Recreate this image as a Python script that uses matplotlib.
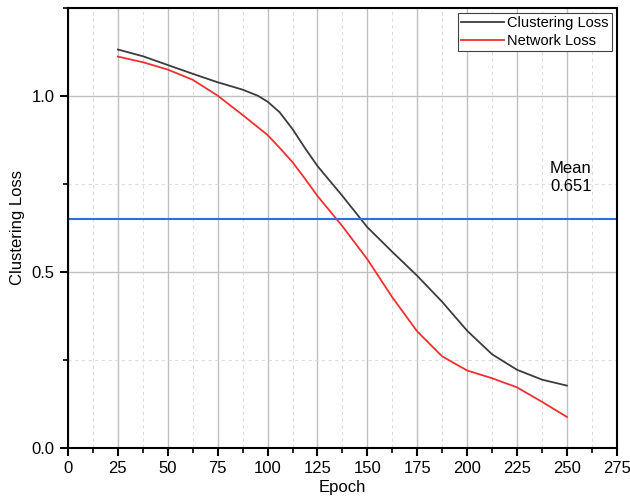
import matplotlib.pyplot as plt
from matplotlib.ticker import MultipleLocator

plt.rcParams['font.family'] = ['Liberation Sans', 'DejaVu Sans']

epochs = [25, 37.5, 50, 62.5, 75, 87.5, 95, 100, 106, 112.5, 118.75, 125, 137.5,
          150, 162.5, 175, 187.5, 200, 212.5, 225, 237.5, 250]
clustering_loss = [1.132, 1.113, 1.088, 1.063, 1.039, 1.018, 1.001, 0.984, 0.954,
                   0.906, 0.852, 0.801, 0.716, 0.627, 0.557, 0.489, 0.415, 0.333,
                   0.266, 0.222, 0.194, 0.177]
network_loss = [1.112, 1.096, 1.075, 1.046, 1.001, 0.946, 0.912, 0.889, 0.853,
                0.812, 0.765, 0.716, 0.630, 0.536, 0.428, 0.331, 0.260, 0.220,
                0.198, 0.172, 0.131, 0.088]
mean_loss = 0.651

fig = plt.figure(figsize=(6.3, 5.01), dpi=100)
ax = fig.add_axes([0.108, 0.106, 0.871, 0.878])

ax.plot(epochs, clustering_loss, color='#3c3c3c', lw=1.3, label='Clustering Loss')
ax.plot(epochs, network_loss, color='#f03030', lw=1.3, label='Network Loss')
ax.axhline(mean_loss, color='#2f6fd6', lw=1.5)
ax.text(241.5, mean_loss + 0.07, 'Mean\n%.3f' % mean_loss, fontsize=12,
        va='bottom', ha='left', linespacing=1.25)

ax.set_xlim(0, 275)
ax.set_ylim(0, 1.25)
ax.xaxis.set_major_locator(MultipleLocator(25))
ax.xaxis.set_minor_locator(MultipleLocator(12.5))
ax.yaxis.set_minor_locator(MultipleLocator(0.25))
ax.set_yticks([0.0, 0.5, 1.0])
ax.set_yticklabels(['0.0', '0.5', '1.0'])

ax.grid(which='major', color='#c0c0c0', lw=1.0, ls='-')
ax.grid(which='minor', color='#dcdcdc', lw=0.8, ls=(0, (3, 3)))
ax.set_axisbelow(True)

for s in ax.spines.values():
    s.set_linewidth(1.5)
ax.tick_params(which='major', direction='out', length=6, width=1.5, labelsize=12)
ax.tick_params(which='minor', direction='out', length=3.5, width=1.2)

ax.set_xlabel('Epoch', fontsize=12, labelpad=3)
ax.set_ylabel('Clustering Loss', fontsize=12, labelpad=5)

leg = ax.legend(loc='upper right', fontsize=10.5, fancybox=False, framealpha=1,
                edgecolor='#404040', borderaxespad=0.35, handlelength=2.9,
                handletextpad=0.25, borderpad=0.2, labelspacing=0.3)
leg.get_frame().set_linewidth(0.8)

fig.savefig('out.png', dpi=100)
